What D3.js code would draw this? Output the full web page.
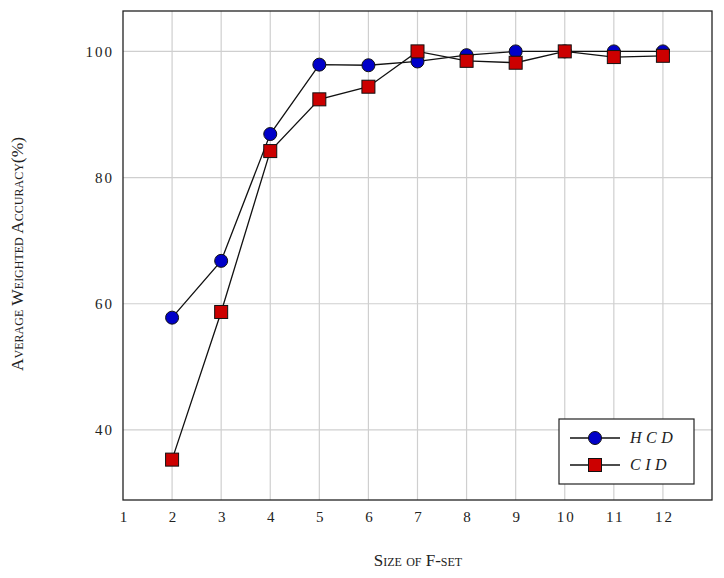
<!DOCTYPE html>
<html>
<head>
<meta charset="utf-8">
<script src="https://cdn.jsdelivr.net/npm/d3@7"></script>
<style>
  body { margin: 0; background: #fff; }
  text { font-family: "Liberation Serif", "DejaVu Serif", serif; fill: #222; }
</style>
</head>
<body>
<div id="chart-area"></div>
<script>
// data
var sizes = [2, 3, 4, 5, 6, 7, 8, 9, 10, 11, 12];
var hcd = [57.8, 66.8, 86.9, 97.9, 97.8, 98.4, 99.4, 100, 100, 100, 100];
var cid = [35.3, 58.7, 84.2, 92.4, 94.4, 100, 98.5, 98.2, 100, 99.1, 99.3];
var xTicks = [1, 2, 3, 4, 5, 6, 7, 8, 9, 10, 11, 12];
var yTicks = [40, 60, 80, 100];

var svg = d3.select("#chart-area").append("svg")
    .attr("width", 724)
    .attr("height", 578);

var plotL = 123, plotR = 712, plotT = 11, plotB = 500;

var x = d3.scaleLinear().domain([1, 13]).range([plotL, plotR]);
var y = d3.scaleLinear().domain([28.9, 106.4]).range([plotB, plotT]);

// grid
svg.append("g").selectAll("line").data(xTicks.slice(1)).enter().append("line")
    .attr("x1", d => x(d)).attr("x2", d => x(d))
    .attr("y1", plotT).attr("y2", plotB)
    .attr("stroke", "#cfcfcf").attr("stroke-width", 1.2);
svg.append("g").selectAll("line").data(yTicks).enter().append("line")
    .attr("x1", plotL).attr("x2", plotR)
    .attr("y1", d => y(d)).attr("y2", d => y(d))
    .attr("stroke", "#cfcfcf").attr("stroke-width", 1.2);

// axes (labels only, frame drawn separately)
var xAxis = svg.append("g")
    .attr("transform", "translate(0," + plotB + ")")
    .call(d3.axisBottom(x).tickValues(xTicks).tickSize(0).tickPadding(11));
xAxis.select(".domain").remove();
xAxis.selectAll("text")
    .attr("font-size", 15)
    .attr("letter-spacing", 2)
    .attr("dx", 1)
    .attr("font-family", "Liberation Serif, serif");

var yAxis = svg.append("g")
    .attr("transform", "translate(" + plotL + ",0)")
    .call(d3.axisLeft(y).tickValues(yTicks).tickSize(0).tickPadding(9));
yAxis.select(".domain").remove();
yAxis.selectAll("text")
    .attr("font-size", 15)
    .attr("letter-spacing", 2)
    .attr("font-family", "Liberation Serif, serif");

// frame
svg.append("rect")
    .attr("x", plotL).attr("y", plotT)
    .attr("width", plotR - plotL).attr("height", plotB - plotT)
    .attr("fill", "none").attr("stroke", "#222").attr("stroke-width", 1.3);

// lines
var line = d3.line().x((d, i) => x(sizes[i])).y(d => y(d));
svg.append("path").datum(hcd).attr("d", line)
    .attr("fill", "none").attr("stroke", "#111").attr("stroke-width", 1.3);
svg.append("path").datum(cid).attr("d", line)
    .attr("fill", "none").attr("stroke", "#111").attr("stroke-width", 1.3);

// markers
svg.append("g").selectAll("circle").data(hcd).enter().append("circle")
    .attr("cx", (d, i) => x(sizes[i]))
    .attr("cy", d => y(d))
    .attr("r", 6.5)
    .attr("fill", "#0000c8").attr("stroke", "#111").attr("stroke-width", 1);

svg.append("g").selectAll("rect").data(cid).enter().append("rect")
    .attr("x", (d, i) => x(sizes[i]) - 6.5)
    .attr("y", d => y(d) - 6.5)
    .attr("width", 13).attr("height", 13)
    .attr("fill", "#cc0000").attr("stroke", "#111").attr("stroke-width", 1);

// axis titles
svg.append("text")
    .attr("x", 418)
    .attr("y", 566)
    .attr("text-anchor", "middle")
    .attr("font-size", 17)
    .style("font-variant", "small-caps")
    .text("Size of F-set");

svg.append("text")
    .attr("transform", "translate(23,254) rotate(-90)")
    .attr("text-anchor", "middle")
    .attr("font-size", 17.5)
    .style("font-variant", "small-caps")
    .text("Average Weighted Accuracy(%)");

// legend
var lg = svg.append("g");
lg.append("rect")
    .attr("x", 559).attr("y", 419).attr("width", 135).attr("height", 65)
    .attr("fill", "#fff").attr("stroke", "#222").attr("stroke-width", 1.2);

var legendItems = [
    {name: "HCD", yy: 438, shape: "circle", color: "#0000c8"},
    {name: "CID", yy: 465, shape: "square", color: "#cc0000"}
];
legendItems.forEach(d => {
    lg.append("line")
        .attr("x1", 570).attr("x2", 620)
        .attr("y1", d.yy).attr("y2", d.yy)
        .attr("stroke", "#111").attr("stroke-width", 1.3);
    if (d.shape === "circle") {
        lg.append("circle").attr("cx", 595).attr("cy", d.yy).attr("r", 6.5)
            .attr("fill", d.color).attr("stroke", "#111");
    } else {
        lg.append("rect").attr("x", 588.5).attr("y", d.yy - 6.5)
            .attr("width", 13).attr("height", 13)
            .attr("fill", d.color).attr("stroke", "#111");
    }
    lg.append("text")
        .attr("x", 630).attr("y", d.yy + 5)
        .attr("font-size", 16)
        .attr("font-style", "italic")
        .attr("letter-spacing", 4.5)
        .text(d.name);
});
</script>
</body>
</html>
